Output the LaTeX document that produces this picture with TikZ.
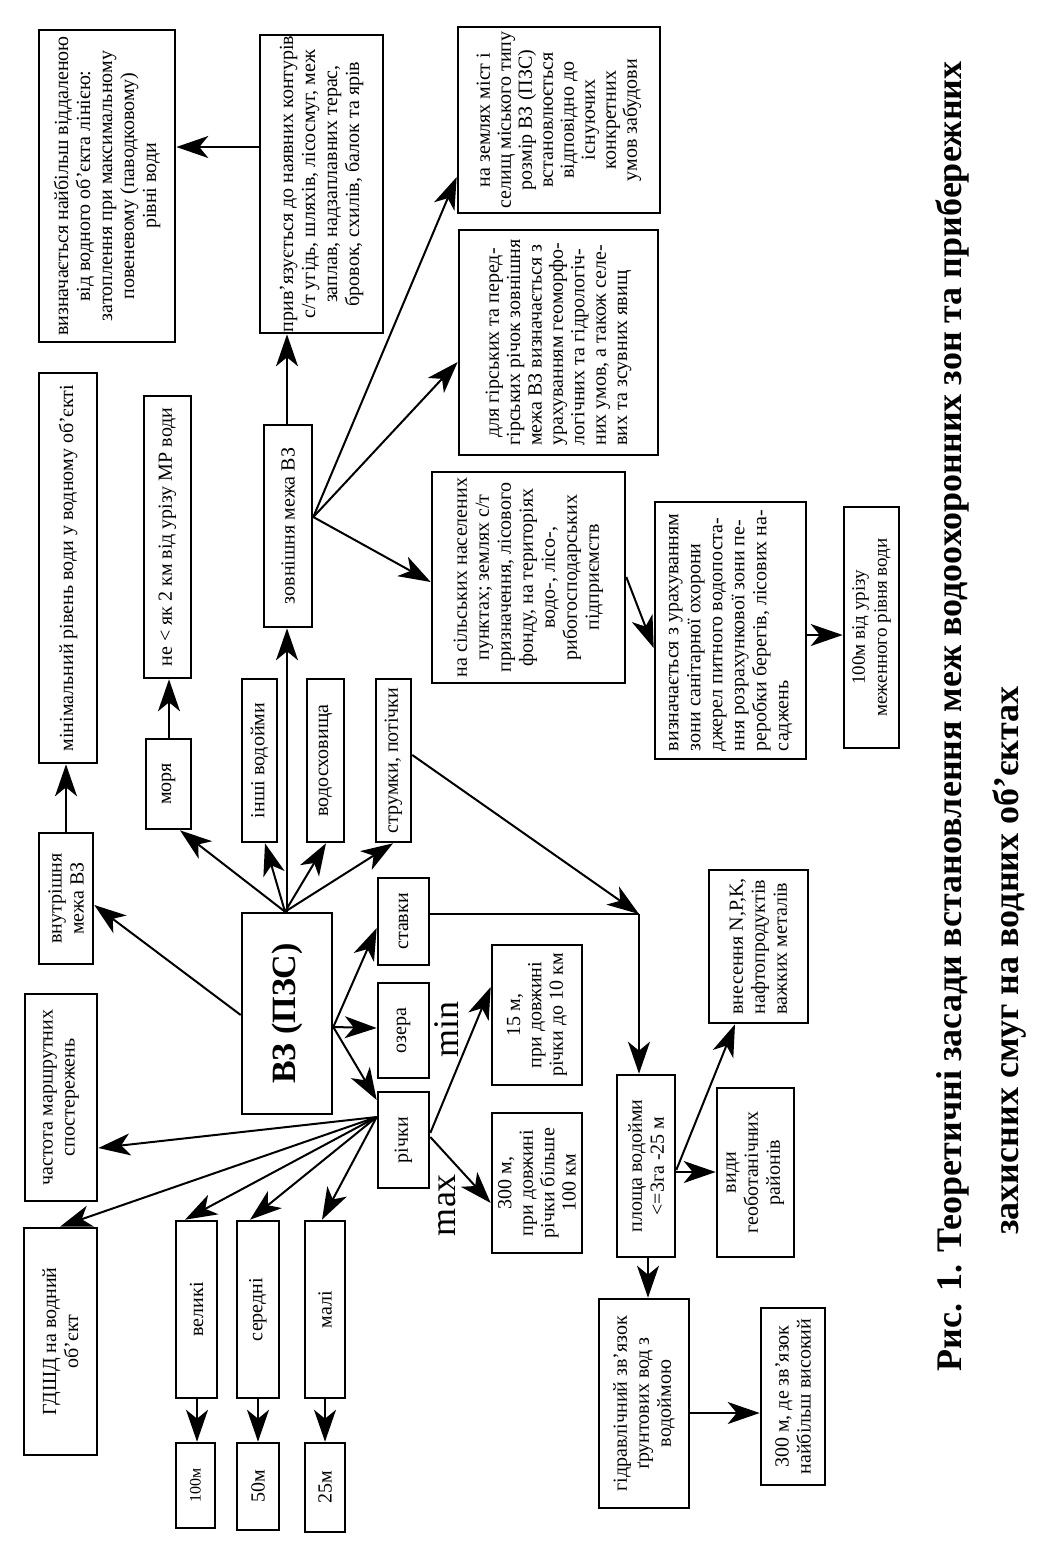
\documentclass[tikz,border=0pt]{standalone}
\usepackage{fontspec}
\setmainfont{Liberation Serif}
\usetikzlibrary{arrows.meta,calc}
\tikzset{
 box/.style={draw, line width=1.3pt, rotate=90, inner sep=1pt, align=center, font=\fontsize{10}{11}\selectfont},
 arr/.style={line width=1pt, -{Stealth[length=16pt,width=11pt,inset=4.5pt]}},
 ln/.style={line width=1pt},
 lbl/.style={rotate=90, inner sep=0pt, font=\fontsize{18}{18}\selectfont},
 ttl/.style={rotate=90, anchor=base west, inner sep=0pt, font=\bfseries\fontsize{18}{18}\selectfont},
}
\newcommand\bx[7][]{\node[box,minimum width={(#6-#4)*0.5pt},minimum height={(#5-#3)*0.5pt},#1] (#2) at ({(#3+#5)/2},{(#4+#6)/2}) {#7};}
\begin{document}
\begin{tikzpicture}[x=0.5pt,y=-0.5pt]
\fill[white] (0,0) rectangle (1041,1560);
\useasboundingbox (0,0) rectangle (1041,1560);
% boxes
\bx{b1}{39}{30}{175}{342}{визначається найбільш віддаленою\\від водного об'єкта лінією:\\затоплення при максимальному\\повеневому (паводковому)\\рівні води}
\bx[inner sep=0pt]{b2}{260}{35}{383}{333}{прив'язується до наявних контурів\\с/т угідь, шляхів, лісосмуг, меж\\заплав, надзаплавних терас,\\бровок, схилів, балок та ярів}
\bx[font=\fontsize{10}{10.5}\selectfont]{b3}{458}{27}{660}{213}{на землях міст і\\селищ міського типу\\розмір ВЗ (ПЗС)\\встановлюється\\відповідно до\\існуючих\\конкретних\\умов забудови}
\bx[align=left,font=\fontsize{10}{10.7}\selectfont]{b4}{459}{230}{658}{455}{\hspace*{4pt}для гірських та перед-\\гірських річок зовнішня\\межа ВЗ визначається з\\урахуванням геоморфо-\\логічних та гідрологіч-\\них умов, а також селе-\\вих та зсувних явищ}
\bx{b5}{39}{373}{97}{763}{мінімальний рівень води у водному об'єкті}
\bx{b6}{144}{396}{191}{678}{не < як 2 км від урізу МР води}
\bx{zovn}{264}{425}{312}{627}{зовнішня межа ВЗ}
\bx{b8}{432}{472}{625}{683}{на сільських населених\\пунктах; землях с/т\\призначення, лісового\\фонду, на територіях\\водо-, лісо-,\\рибогосподарських\\підприємств}
\bx[align=left]{b9}{655}{502}{806}{759}{визначається з урахуванням\\зони санітарної охорони\\джерел питного водопоста-\\ння розрахункової зони пе-\\реробки берегів, лісових на-\\саджень}
\bx[font=\fontsize{9.5}{11}\selectfont]{b10}{844}{507}{899}{748}{100м від урізу\\меженного рівня води}
\bx{morya}{146}{739}{191}{829}{моря}
\bx{inshi}{242}{679}{277}{842}{інші водойми}
\bx{vodos}{307}{679}{344}{842}{водосховища}
\bx{strum}{376}{679}{411}{842}{струмки, потічки}
\bx{vnutr}{39}{833}{93}{964}{внутрішня\\межа ВЗ}
\bx[font=\bfseries\fontsize{17}{17}\selectfont]{vz}{242}{913}{332}{1114}{ВЗ (ПЗС)}
\bx{chast}{25}{994}{97}{1201}{частота маршрутних\\спостережень}
\bx{stavky}{378}{878}{429}{965}{ставки}
\bx{ozera}{378}{983}{429}{1078}{озера}
\bx{richky}{378}{1092}{429}{1188}{річки}
\bx[font=\fontsize{10}{10.7}\selectfont]{b15}{492}{945}{582}{1085}{15 м,\\при довжині\\річки до 10 км}
\bx[font=\fontsize{10}{10.7}\selectfont]{b300}{492}{1113}{582}{1253}{300 м,\\при довжині\\річки більше\\100 км}
\bx{plosh}{617}{1075}{675}{1257}{площа водойми\\<=3га -25 м}
\bx[align=left]{vnes}{709}{870}{808}{1023}{внесення N,P,K,\\нафтопродуктів\\важких металів}
\bx{vydy}{717}{1088}{794}{1257}{види\\геоботанічних\\районів}
\bx{gdshd}{24}{1228}{97}{1455}{ГДШД на водний\\об'єкт}
\bx{vel}{176}{1221}{217}{1398}{великі}
\bx{ser}{237}{1221}{279}{1398}{середні}
\bx{mali}{305}{1221}{345}{1398}{малі}
\bx[font=\fontsize{8}{8}\selectfont]{m100}{176}{1443}{215}{1528}{100м}
\bx{m50}{237}{1443}{279}{1530}{50м}
\bx{m25}{305}{1443}{345}{1532}{25м}
\bx{gidr}{599}{1299}{689}{1508}{гідравлічний зв'язок\\ґрунтових вод з\\водоймою}
\bx{b300d}{761}{1308}{825}{1485}{300 м, де зв'язок\\найбільш високий}
% labels
\node[lbl] (minl) at (447,1029) {min};
\node[lbl] (maxl) at (447,1205) {max};
\node[ttl] (t1) at (961,1372) {Рис. 1. Теоретичні засади встановлення меж водоохоронних зон та прибережних};
\node[ttl] (t2) at (1018,1235) {захисних смуг на водних об'єктах};
% connectors
\coordinate (J) at (639,914);
\draw[arr] (b2.north |- 0,147) -- (b1.south |- 0,147);
\draw[arr] (287,0 |- zovn.east) -- (287,0 |- b2.west);
\draw[arr] (287,0 |- vz.east) -- (287,0 |- zovn.west);
\draw[arr] (285,0 |- vz.east) -- (180,0 |- morya.west);
\draw[arr] (285,0 |- vz.east) -- (265,0 |- inshi.west);
\draw[arr] (285,0 |- vz.east) -- (326,0 |- vodos.west);
\draw[arr] (285,0 |- vz.east) -- (393,0 |- strum.west);
\draw[arr] (vz.north |- 0,1015) -- (vnutr.south |- 0,905);
\draw[arr] (66,0 |- vnutr.east) -- (66,0 |- b5.west);
\draw[arr] (169,0 |- morya.east) -- (169,0 |- b6.west);
\draw[arr] (zovn.south |- 0,517) -- (b3.north |- 0,177);
\draw[arr] (zovn.south |- 0,517) -- (b4.north |- 0,362);
\draw[arr] (zovn.south |- 0,517) -- (b8.north |- 0,582);
\draw[arr] (b8.south |- 0,577) -- (b9.north |- 0,648);
\draw[arr] (b9.south |- 0,635) -- (b10.north |- 0,635);
\draw[arr] (strum.south |- 0,755) -- (J);
\draw[ln] (stavky.south |- J) -- (J);
\draw[arr] (J) -- (J |- plosh.east);
\draw[arr] (vz.south |- 0,1027) -- (stavky.north |- 0,928);
\draw[arr] (vz.south |- 0,1027) -- (ozera.north |- 0,1028);
\draw[arr] (vz.south |- 0,1027) -- (richky.north |- 0,1100);
\draw[arr] (richky.south |- 0,1133) -- (b15.north |- 0,987);
\draw[arr] (richky.south |- 0,1137) -- (b300.north |- 0,1203);
\draw[arr] (richky.north |- 0,1117) -- (chast.south |- 0,1148);
\draw[arr] (richky.north |- 0,1117) -- (60,0 |- gdshd.east);
\draw[arr] (richky.north |- 0,1117) -- (185,0 |- vel.east);
\draw[arr] (richky.north |- 0,1117) -- (250,0 |- ser.east);
\draw[arr] (richky.north |- 0,1117) -- (322,0 |- mali.east);
\draw[arr] (197,0 |- vel.west) -- (197,0 |- m100.east);
\draw[arr] (258,0 |- ser.west) -- (258,0 |- m50.east);
\draw[arr] (325,0 |- mali.west) -- (325,0 |- m25.east);
\draw[arr] (plosh.south |- 0,1170) -- (735,0 |- vnes.west);
\draw[arr] (plosh.south |- 0,1172) -- (vydy.north |- 0,1172);
\draw[arr] (648,0 |- plosh.west) -- (648,0 |- gidr.east);
\draw[arr] (gidr.south |- 0,1413) -- (b300d.north |- 0,1413);
\end{tikzpicture}
\end{document}
